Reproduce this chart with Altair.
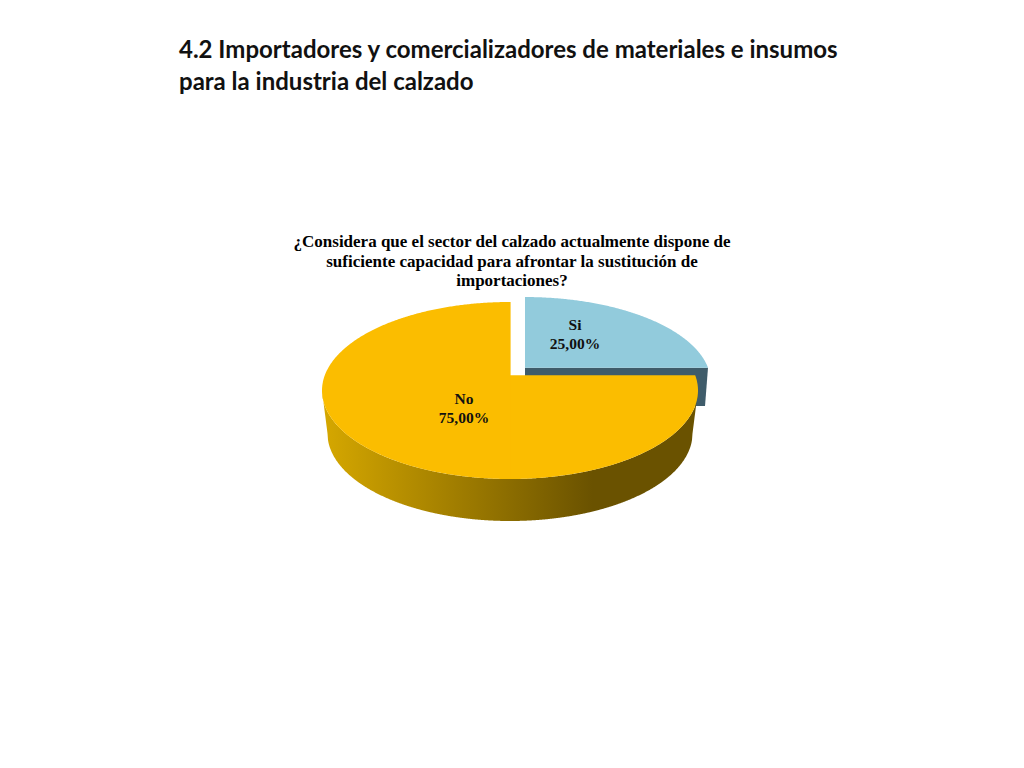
import altair as alt
import pandas as pd

# --- chart values ---
categories = ["Si", "No"]
shares = [25.0, 75.0]
share_labels = ["25,00%", "75,00%"]
heading_lines = [
    "4.2 Importadores y comercializadores de materiales e insumos",
    "para la industria del calzado",
]
question_lines = [
    "¿Considera que el sector del calzado actualmente dispone de",
    "suficiente capacidad para afrontar la sustitución de",
    "importaciones?",
]

# --- slice angles from the shares (clockwise from 12 o'clock) ---
si_end = 360 * shares[0] / sum(shares)
no_start = si_end
no_end = 360.0

# --- picture geometry of the tilted pie ---
K = 0.1718
NO_CX, NO_CY, NO_A, NO_B = 510.0, 375.3, 85.9, 185.2
SI_CX, SI_CY, SI_A, SI_B = 525.0, 367.7, 82.8, 183.0
TOP_CY, TOP_RX, TOP_RY = 390.5, 188.0, 88.5
BOT_CY, BOT_RX, BOT_RY = 433.5, 182.5, 87.5
SI_FACE_BOTTOM = 406.0

xs = alt.Scale(domain=[8, 1016], range=[0, 1008], nice=False, zero=False)
ys = alt.Scale(domain=[8, 760], range=[0, 752], nice=False, zero=False)
X = alt.X("px:Q", scale=xs, axis=None)
Y = alt.Y("py:Q", scale=ys, axis=None)


def rim(chart, cx, cy, a, b):
    rad = "(datum.a*PI/180)"
    return chart.transform_calculate(
        px=f"{cx}+{b}*sin({rad})/(1+{K}*cos({rad}))",
        py=f"{cy}-{a}*cos({rad})/(1+{K}*cos({rad}))",
    )


GOLD = "#FBBD00"
BLUE = "#92CBDC"
SLATE = "#3F5C6A"
side_gradient = alt.Gradient(
    gradient="linear",
    x1=0, x2=1, y1=0, y2=0,
    stops=[
        alt.GradientStop(offset=0, color="#D6A800"),
        alt.GradientStop(offset=0.72, color="#6A5200"),
        alt.GradientStop(offset=1, color="#6A5200"),
    ],
)

# Si: cut face seen below the slice
si_face = (
    alt.Chart(pd.DataFrame({"px": [SI_CX, 705.0, SI_CX + SI_B],
                            "py": [SI_CY] * 3,
                            "py2": [SI_FACE_BOTTOM, SI_FACE_BOTTOM, SI_CY]}))
    .mark_area(color=SLATE, orient="vertical")
    .encode(x=X, y=Y, y2="py2:Q")
)

# Si: top surface
si_top = (
    rim(alt.Chart(alt.sequence(0, si_end + 0.25, 0.5, as_="a")), SI_CX, SI_CY, SI_A, SI_B)
    .transform_calculate(py2=f"{SI_CY}")
    .mark_area(color=BLUE, orient="vertical")
    .encode(x=X, y=Y, y2="py2:Q")
)

# No: rim side, between the top and the bottom edge
side_chart = (
    alt.Chart(alt.sequence(NO_CX - TOP_RX, NO_CX + TOP_RX + 0.25, 0.5, as_="px"))
    .transform_calculate(u=f"(datum.px-{NO_CX})")
    .transform_calculate(
        py=f"{TOP_CY}+{TOP_RY}*sqrt(max(0,1-pow(datum.u/{TOP_RX},2)))",
        py2=(
            f"abs(datum.u)<{BOT_RX}"
            f" ? {BOT_CY}+{BOT_RY}*sqrt(1-pow(datum.u/{BOT_RX},2))"
            f" : {TOP_CY}+({BOT_CY}-{TOP_CY})*({TOP_RX}-abs(datum.u))/({TOP_RX}-{BOT_RX})"
        ),
    )
    .mark_area(color=side_gradient, orient="vertical")
    .encode(x=X, y=Y, y2="py2:Q")
)

# No: top surface, in two pieces joined down the pie's vertical axis
no_right = (
    rim(alt.Chart(alt.sequence(no_start, 180.25, 0.5, as_="a")), NO_CX, NO_CY, NO_A, NO_B)
    .transform_calculate(px2=f"{NO_CX}")
    .mark_area(color=GOLD, orient="horizontal")
    .encode(x=X, x2="px2:Q", y=Y)
)
no_left = (
    rim(alt.Chart(alt.sequence(180, no_end + 0.25, 0.5, as_="a")), NO_CX, NO_CY, NO_A, NO_B)
    .transform_calculate(px2=f"{NO_CX + 0.6}")
    .mark_area(color=GOLD, orient="horizontal")
    .encode(x=X, x2="px2:Q", y=Y)
)

# --- text ---
heading = pd.DataFrame({"t": heading_lines, "px": [179, 179], "py": [58, 90]})
heading_text = (
    alt.Chart(heading)
    .mark_text(font="Lato", fontWeight="bold", fontSize=24, align="left",
               baseline="alphabetic", color="#111111")
    .encode(x=X, y=Y, text="t:N")
)
question = pd.DataFrame({"t": question_lines, "px": [512, 512, 512], "py": [247, 267, 286]})
question_text = (
    alt.Chart(question)
    .mark_text(font="Liberation Serif", fontWeight="bold", fontSize=17, align="center",
               baseline="alphabetic", color="#000000")
    .encode(x=X, y=Y, text="t:N")
)
labels = pd.DataFrame({
    "t": [categories[0], share_labels[0], categories[1], share_labels[1]],
    "px": [575, 575, 464, 464],
    "py": [330, 349, 404, 423],
})
label_text = (
    alt.Chart(labels)
    .mark_text(font="Liberation Serif", fontWeight="bold", fontSize=15.5, align="center",
               baseline="alphabetic", color="#111111")
    .encode(x=X, y=Y, text="t:N")
)

chart = (
    alt.layer(si_face, si_top, side_chart, no_right, no_left,
              heading_text, question_text, label_text)
    .properties(width=1008, height=752, padding=0,
                autosize=alt.AutoSizeParams(type="none"), background="white")
    .configure_view(stroke=None)
)

chart.save("out.html", embed_options={"renderer": "svg", "actions": False})
